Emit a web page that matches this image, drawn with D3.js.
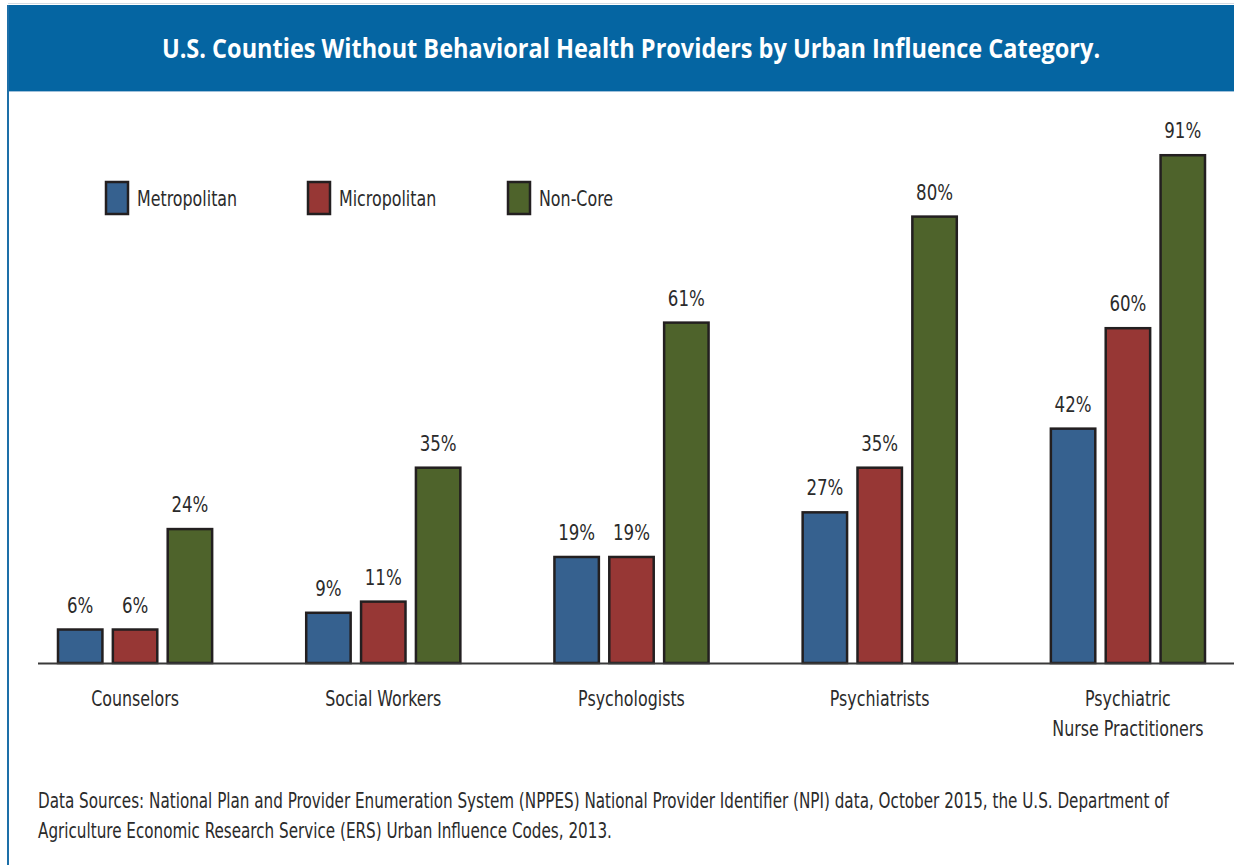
<!DOCTYPE html>
<html>
<head>
<meta charset="utf-8">
<script src="https://cdn.jsdelivr.net/npm/d3@7"></script>
<style>
  html, body { margin: 0; padding: 0; background: #fff; }
  svg { display: block; }
  text { font-family: "DejaVu Sans Condensed", "Noto Sans", sans-serif; }
</style>
</head>
<body>
<svg id="chart" width="1234" height="865"></svg>
<script>
// Share of counties without each provider type, by urban influence category (%)
const categories = ["Counselors", "Social Workers", "Psychologists", "Psychiatrists", "Psychiatric\nNurse Practitioners"];
const seriesNames = ["Metropolitan", "Micropolitan", "Non-Core"];
const metropolitan = [6, 9, 19, 27, 42];
const micropolitan = [6, 11, 19, 35, 60];
const nonCore = [24, 35, 61, 80, 91];
const seriesColors = ["#36618f", "#973735", "#4e632b"];

const titleText = "U.S. Counties Without Behavioral Health Providers by Urban Influence Category.";
const sourceLines = [
  "Data Sources: National Plan and Provider Enumeration System (NPPES) National Provider Identifier (NPI) data, October 2015, the U.S. Department of",
  "Agriculture Economic Research Service (ERS) Urban Influence Codes, 2013."
];

const seriesValues = [metropolitan, micropolitan, nonCore];
const rows = categories.map((c, i) => ({
  category: c,
  values: seriesNames.map((s, j) => ({ series: s, value: seriesValues[j][i], idx: j }))
}));

// Narrow short labels horizontally to get a condensed face
function condense(sel, k) {
  sel.each(function() {
    const len = this.getComputedTextLength();
    d3.select(this).attr("textLength", len * k).attr("lengthAdjust", "spacingAndGlyphs");
  });
}
const K = 0.84;

const svg = d3.select("#chart");
const W = 1234, H = 865;

// Frame and header band
svg.append("line").attr("x1", 8).attr("x2", W).attr("y1", 3.5).attr("y2", 3.5)
  .attr("stroke", "#d4dbe3").attr("stroke-width", 1);
svg.append("rect").attr("x", 8).attr("y", 5).attr("width", W - 8).attr("height", 86)
  .attr("fill", "#0565a2");
svg.append("line").attr("x1", 8).attr("x2", 8).attr("y1", 5).attr("y2", H)
  .attr("stroke", "#1d6fa8").attr("stroke-width", 2);
svg.append("line").attr("x1", 9).attr("x2", W).attr("y1", 91.5).attr("y2", 91.5)
  .attr("stroke", "#9fc0da").attr("stroke-width", 1);

// Title: font size set so the line spans 939px, stretched vertically back to 27px glyph height
const titleG = svg.append("g");
const title = titleG.append("text")
  .attr("text-anchor", "middle")
  .attr("fill", "#fff")
  .attr("font-size", 27).attr("font-weight", "bold")
  .style("font-family", "'Open Sans', 'Noto Sans', sans-serif")
  .text(titleText);
{
  const fs = 27 * 939 / title.node().getComputedTextLength();
  title.attr("font-size", fs);
  titleG.attr("transform", `translate(631,58) scale(1,${27 / fs})`);
}

// Scales
const baseline = 663;
const y = d3.scaleLinear().domain([0, 100]).range([baseline, baseline - 558]);
const x0 = d3.scaleBand().domain(categories).range([58, 1205]).paddingInner(0.379).paddingOuter(0);
const x1 = d3.scaleBand().domain(seriesNames).range([0, x0.bandwidth()]).paddingInner(0.19);

// Bars
const groups = svg.append("g").selectAll("g").data(rows).join("g")
  .attr("transform", d => `translate(${x0(d.category)},0)`);

groups.selectAll("rect").data(d => d.values).join("rect")
  .attr("x", d => x1(d.series))
  .attr("y", d => y(d.value))
  .attr("width", x1.bandwidth())
  .attr("height", d => baseline - y(d.value))
  .attr("fill", d => seriesColors[d.idx])
  .attr("stroke", "#231f20")
  .attr("stroke-width", 2.5);

groups.selectAll("text.val").data(d => d.values).join("text")
  .attr("class", "val")
  .attr("x", d => x1(d.series) + x1.bandwidth() / 2)
  .attr("y", d => y(d.value) - 17)
  .attr("text-anchor", "middle")
  .attr("fill", "#2b2b2b")
  .attr("font-size", 21)
  .text(d => d.value + "%")
  .call(condense, 0.88);

// Baseline axis
svg.append("line").attr("x1", 38).attr("x2", W).attr("y1", baseline + 0.5).attr("y2", baseline + 0.5)
  .attr("stroke", "#3a3a3a").attr("stroke-width", 2);

// Category labels
const xAxis = d3.axisBottom(x0).tickSize(0).tickPadding(0).tickFormat(() => "");
const axisG = svg.append("g").attr("transform", `translate(0,${baseline})`).call(xAxis);
axisG.select(".domain").remove();
axisG.selectAll(".tick").each(function(d) {
  const lines = d.split("\n");
  const t = d3.select(this).append("text")
    .attr("text-anchor", "middle")
    .attr("fill", "#2b2b2b")
    .attr("font-size", 21);
  lines.forEach((ln, i) => {
    t.append("tspan").attr("x", 0).attr("y", 43 + i * 30).text(ln);
  });
  t.selectAll("tspan").call(condense, K);
});

// Legend
const legendX = [106, 308, 508];
const legend = svg.append("g").selectAll("g").data(seriesNames).join("g")
  .attr("transform", (d, i) => `translate(${legendX[i]},182)`);
legend.append("rect").attr("width", 22).attr("height", 32)
  .attr("fill", (d, i) => seriesColors[i])
  .attr("stroke", "#231f20").attr("stroke-width", 2.5);
legend.append("text").attr("x", 31).attr("y", 24)
  .attr("fill", "#2b2b2b").attr("font-size", 21)
  .text(d => d)
  .call(condense, K);

// Source note: first line spans 1132px; glyphs stretched vertically to a 20.5px height
const srcG = svg.append("g");
const src = srcG.selectAll("text").data(sourceLines).join("text")
  .attr("x", 0)
  .attr("fill", "#2b2b2b").attr("font-size", 20.5)
  .text(d => d);
{
  const fs = 20.5 * 1132 / src.node().getComputedTextLength();
  const sy = 20.5 / fs;
  src.attr("font-size", fs).attr("y", (d, i) => (i * 30) / sy);
  srcG.attr("transform", `translate(38,808) scale(1,${sy})`);
}
</script>
</body>
</html>
